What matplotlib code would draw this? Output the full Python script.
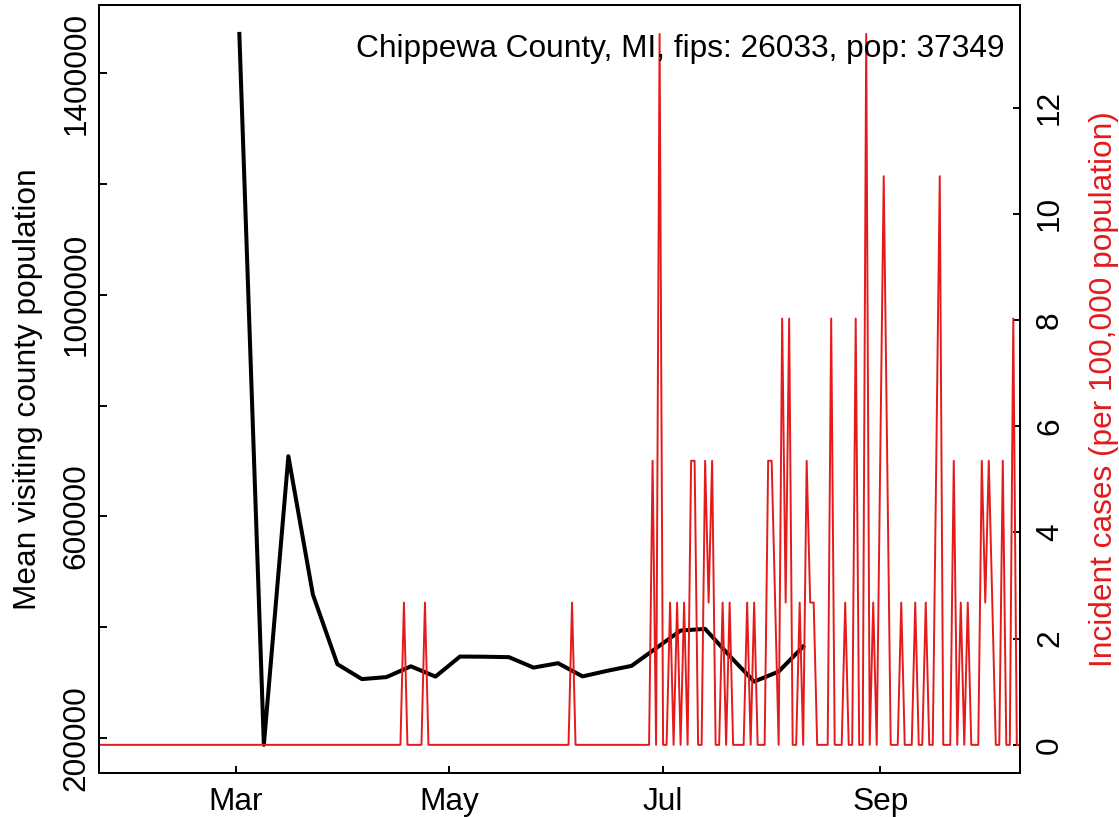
import numpy as np
import pandas as pd
import matplotlib
matplotlib.use("Agg")
import matplotlib.pyplot as plt
import matplotlib.dates as mdates
from matplotlib.ticker import MultipleLocator, FuncFormatter

plt.rcParams['font.family'] = ['Liberation Sans', 'DejaVu Sans']

county_label = "Chippewa County, MI, fips: 26033, pop: 37349"

# weekly mean visiting county population (Mondays, Mar 2 .. Aug 10)
visit_dates = pd.date_range("2020-03-02", "2020-08-10", freq="7D")
visit_pop = [1470900, 187400, 708500, 458800, 333000, 306100, 309700, 329200,
             310600, 346800, 346500, 345700, 326900, 334800, 311000, 321000,
             330000, 361900, 393700, 396800, 348000, 301600, 319700, 364800]

# daily incident cases per 100,000 population
case_dates = pd.date_range("2020-01-22", "2020-10-11", freq="D")
early_cases = {"2020-04-18": 2.68, "2020-04-24": 2.68, "2020-06-05": 2.68}
late_start = "2020-06-27"
late_cases = [0, 5.35, 0, 13.39, 0, 0, 2.68, 0, 2.68, 0,
              2.68, 0, 5.35, 5.35, 0, 0, 5.35, 2.68, 5.35, 0,
              0, 2.68, 0, 2.68, 0, 0, 0, 0, 2.68, 0,
              2.68, 0, 0, 0, 5.35, 5.35, 2.68, 0, 8.03, 2.68,
              8.03, 0, 0, 2.68, 0, 5.35, 2.68, 2.68, 0, 0,
              0, 0, 8.03, 0, 0, 0, 2.68, 0, 0, 8.03,
              0, 0, 13.39, 0, 2.68, 0, 5.35, 10.71, 5.35, 0,
              0, 0, 2.68, 0, 0, 0, 2.68, 0, 0, 2.68,
              0, 0, 5.35, 10.71, 0, 0, 0, 5.35, 0, 2.68,
              0, 2.68, 0, 0, 0, 5.35, 2.68, 5.35, 2.68, 0,
              0, 5.35, 0, 0, 8.03, 0, 0]

incid = pd.Series(0.0, index=case_dates)
for d, v in early_cases.items():
    incid[pd.Timestamp(d)] = v
incid[pd.Timestamp(late_start):] = late_cases

red = "#E41A1C"
fs = 22.8

fig = plt.figure(figsize=(11.19, 8.17), dpi=100, facecolor="white")
ax = fig.add_axes([0.0887, 0.0535, 0.8231, 0.9398])

ax.plot(visit_dates, visit_pop, color="black", lw=2.9, solid_joinstyle="round")
lo, hi = min(visit_pop), max(visit_pop)
ax.set_ylim(lo - 0.04 * (hi - lo), hi + 0.04 * (hi - lo))

ax.yaxis.set_major_locator(MultipleLocator(200000))
ax.yaxis.set_major_formatter(FuncFormatter(
    lambda v, p: f"{int(round(v))}" if int(round(v)) in (200000, 600000, 1000000, 1400000) else ""))
ax.xaxis.set_major_locator(mdates.MonthLocator(bymonth=[3, 5, 7, 9]))
ax.xaxis.set_major_formatter(mdates.DateFormatter("%b"))

ax2 = ax.twinx()
ax2.plot(incid.index, incid.values, color=red, lw=1.4)
clo, chi = incid.min(), incid.max()
ax2.set_ylim(clo - 0.04 * (chi - clo), chi + 0.04 * (chi - clo))
ax2.yaxis.set_major_locator(MultipleLocator(2))
ax2.yaxis.set_major_formatter(FuncFormatter(lambda v, p: f"{int(round(v))}"))
ax.set_xlim(case_dates[0], case_dates[-1])

for a in (ax, ax2):
    for s in a.spines.values():
        s.set_linewidth(1.4)
ax.tick_params(axis="x", direction="in", length=5.4, width=1.4, labelsize=fs, pad=10)
ax.tick_params(axis="y", direction="in", length=5.4, width=1.4, labelsize=fs, pad=5.5,
               labelrotation=90)
ax2.tick_params(axis="y", direction="in", length=5.4, width=1.4, labelsize=fs, pad=10.5,
                labelrotation=90)
for t in ax.get_yticklabels():
    t.set_verticalalignment("center")
for t in ax2.get_yticklabels():
    t.set_verticalalignment("center")

fig.text(28 / 1119, 1 - 389.4 / 817, "Mean visiting county population", rotation=90,
         ha="center", va="center", fontsize=fs)
fig.text(1104 / 1119, 1 - 389.4 / 817, "Incident cases (per 100,000 population)",
         rotation=90, ha="center", va="center", fontsize=fs, color=red)
fig.text(1004.7 / 1119, 1 - 57 / 817, county_label, ha="right", va="baseline", fontsize=fs)

fig.savefig("out.png", dpi=100)
